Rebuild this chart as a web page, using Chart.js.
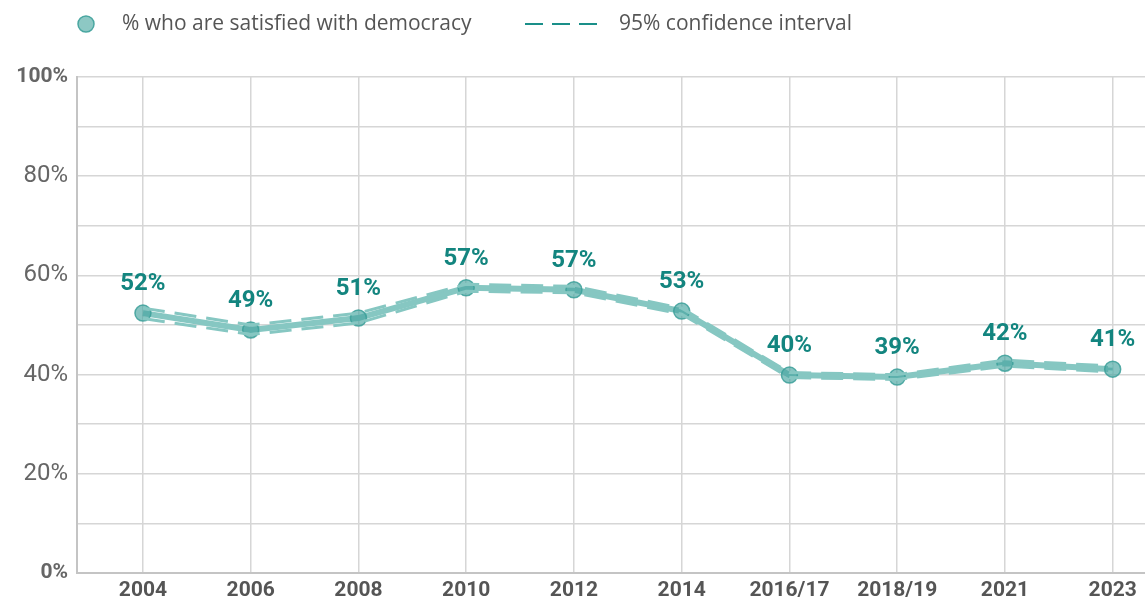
<!DOCTYPE html>
<html lang="en">
<head>
<meta charset="UTF-8">
<title>Satisfaction with democracy</title>
<script src="https://cdn.jsdelivr.net/npm/chart.js"></script>
<style>
  html, body { margin: 0; padding: 0; background: #fff; }
  #wrap { width: 1145px; height: 600px; }
</style>
</head>
<body>
<div id="wrap"><canvas id="chart"></canvas></div>
<script>
// data
const years = ['2004', '2006', '2008', '2010', '2012', '2014', '2016/17', '2018/19', '2021', '2023'];
const satisfied = [52.4, 49.0, 51.4, 57.5, 57.1, 52.8, 39.9, 39.5, 42.3, 41.1];
const ciUpper = [53.4, 50.0, 52.4, 58.2, 57.8, 53.4, 40.4, 40.0, 42.9, 41.7];
const ciLower = [51.3, 48.1, 50.4, 56.8, 56.5, 52.2, 39.4, 39.0, 41.7, 40.5];
const dataLabels = ['52%', '49%', '51%', '57%', '57%', '53%', '40%', '39%', '42%', '41%'];

const teal = '#86c7c2';
const tealDark = '#13857f';

const toXY = arr => arr.map((v, i) => ({ x: i, y: v }));

// custom legend at the top
const legendPlugin = {
  id: 'topLegend',
  afterDraw(chart) {
    const ctx = chart.ctx;
    ctx.save();
    ctx.fillStyle = 'rgba(80,170,164,0.65)';
    ctx.strokeStyle = '#4aa7a1';
    ctx.lineWidth = 1.5;
    ctx.beginPath();
    ctx.arc(86, 24, 8, 0, Math.PI * 2);
    ctx.fill();
    ctx.stroke();
    ctx.font = '21px "Open Sans", sans-serif';
    ctx.fillStyle = '#555';
    ctx.textBaseline = 'middle';
    ctx.fillText('% who are satisfied with democracy', 122, 24);
    ctx.strokeStyle = '#1a8f89';
    ctx.lineWidth = 2;
    ctx.setLineDash([18, 9]);
    ctx.beginPath();
    ctx.moveTo(525, 24);
    ctx.lineTo(598, 24);
    ctx.stroke();
    ctx.setLineDash([]);
    ctx.fillText('95% confidence interval', 619, 24);
    ctx.restore();
  }
};

// percentage labels above the points
const valueLabels = {
  id: 'valueLabels',
  afterDatasetsDraw(chart) {
    const ctx = chart.ctx;
    const meta = chart.getDatasetMeta(2);
    ctx.save();
    ctx.font = 'bold 24px Roboto, sans-serif';
    ctx.fillStyle = tealDark;
    ctx.textAlign = 'center';
    ctx.textBaseline = 'middle';
    meta.data.forEach((pt, i) => {
      ctx.fillText(dataLabels[i], pt.x, pt.y - 29);
    });
    ctx.restore();
  }
};

new Chart(document.getElementById('chart'), {
  type: 'line',
  data: {
    datasets: [
      {
        label: 'upper',
        data: toXY(ciUpper),
        borderColor: teal,
        borderWidth: 3,
        borderDash: [22, 10],
        pointRadius: 0,
        fill: false
      },
      {
        label: 'lower',
        data: toXY(ciLower),
        borderColor: teal,
        borderWidth: 3,
        borderDash: [22, 10],
        pointRadius: 0,
        fill: false
      },
      {
        label: '% who are satisfied with democracy',
        data: toXY(satisfied),
        borderColor: teal,
        borderWidth: 6,
        pointRadius: 8,
        pointBackgroundColor: 'rgba(70,165,159,0.65)',
        pointBorderColor: 'rgba(60,160,154,0.85)',
        pointBorderWidth: 1.5,
        fill: false
      }
    ]
  },
  options: {
    responsive: true,
    maintainAspectRatio: false,
    animation: false,
    layout: { autoPadding: false, padding: { top: 77, right: 0, left: 0, bottom: 0 } },
    plugins: {
      legend: { display: false },
      tooltip: { enabled: false }
    },
    scales: {
      x: {
        type: 'linear',
        min: -0.612,
        max: 9.3,
        afterBuildTicks: s => { s.ticks = years.map((_, i) => ({ value: i })); },
        afterFit: s => { s.height = 27; s.paddingRight = 0; s.paddingLeft = 0; },
        grid: { color: '#d6d6d6', lineWidth: 1.5, drawTicks: false },
        border: { color: '#c4c4c4', width: 2 },
        ticks: {
          padding: 5,
          color: '#555',
          font: { family: 'Roboto', size: 21, weight: 'bold' },
          callback: v => years[v]
        }
      },
      y: {
        min: 0,
        max: 100,
        afterFit: s => { s.width = 77; s.paddingTop = 0; s.paddingBottom = 0; },
        grid: { color: '#d6d6d6', lineWidth: 1.5, drawTicks: false },
        border: { color: '#c4c4c4', width: 2 },
        ticks: {
          stepSize: 10,
          padding: 9,
          color: '#666',
          font: ctx => {
            const edge = ctx.tick && (ctx.tick.value === 0 || ctx.tick.value === 100);
            return { family: 'Roboto', size: edge ? 21 : 24, weight: edge ? 'bold' : 'normal' };
          },
          callback: v => (v % 20 === 0 ? v + '%' : '')
        }
      }
    }
  },
  plugins: [legendPlugin, valueLabels]
});
</script>
</body>
</html>
